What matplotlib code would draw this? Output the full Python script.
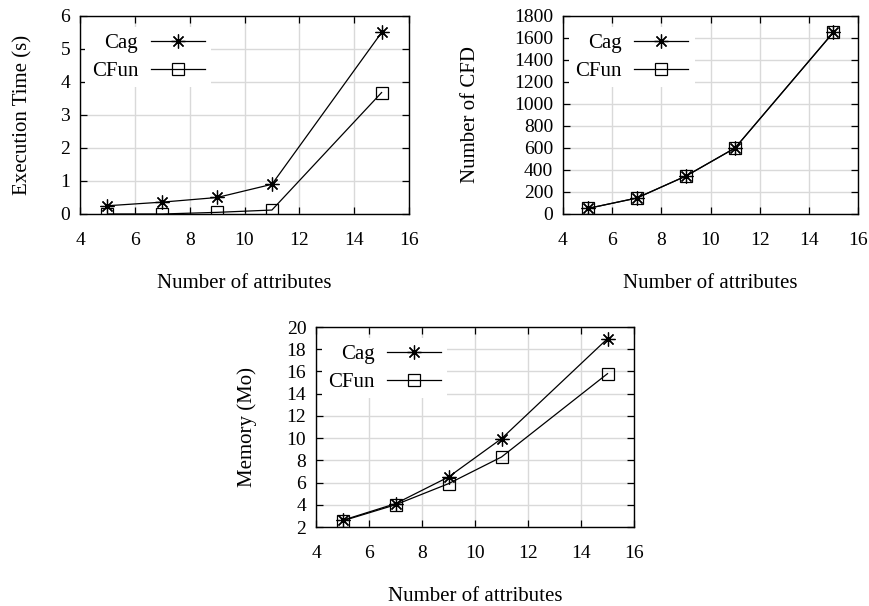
import matplotlib.pyplot as plt
from matplotlib.ticker import MultipleLocator

plt.rcParams['font.family'] = ['Liberation Serif', 'DejaVu Serif']

attrs = [5, 7, 9, 11, 15]

time_cag = [0.25, 0.36, 0.5, 0.9, 5.5]
time_cfun = [0.0, 0.0, 0.05, 0.12, 3.68]

cfd_cag = [50, 145, 345, 600, 1652]
cfd_cfun = [50, 145, 345, 600, 1652]

mem_cag = [2.6, 4.1, 6.5, 9.95, 18.95]
mem_cfun = [2.55, 4.0, 5.9, 8.3, 15.8]

W, H = 869, 606
fig = plt.figure(figsize=(W / 100, H / 100), dpi=100)


def box(l, t, r, b):
    # pixel box -> figure fraction
    return [l / W, 1 - b / H, (r - l) / W, (b - t) / H]


def panel(rect, ycag, ycfun, ylim, ystep, ylabel, ylabx):
    ax = fig.add_axes(box(*rect))
    ax.plot(attrs, ycag, color='black', lw=0.9, marker=(8, 2, 0),
            markersize=10, markeredgewidth=0.9, label='Cag')
    ax.plot(attrs, ycfun, color='black', lw=0.9, marker='s',
            markersize=9, fillstyle='none', markeredgewidth=0.9, label='CFun')
    ax.set_xlim(4, 16)
    ax.set_ylim(*ylim)
    ax.xaxis.set_major_locator(MultipleLocator(2))
    ax.yaxis.set_major_locator(MultipleLocator(ystep))
    ax.grid(True, color='#d9d9d9', lw=1)
    ax.set_axisbelow(True)
    ax.tick_params(direction='in', top=True, right=True, length=5,
                   labelsize=14, width=0.9)
    ax.tick_params(axis='x', pad=13)
    ax.tick_params(axis='y', pad=7)
    for s in ax.spines.values():
        s.set_linewidth(1.0)
    ax.set_xlabel('Number of attributes', fontsize=15, labelpad=18)
    ax.set_ylabel(ylabel, fontsize=15)
    ax.yaxis.set_label_coords(ylabx, 0.5)
    leg = ax.legend(loc='upper left', bbox_to_anchor=(-0.015, 0.995),
                    markerfirst=False, frameon=True, fancybox=False,
                    edgecolor='none', facecolor='white', framealpha=1,
                    fontsize=15, handlelength=2.6, handletextpad=0.6,
                    labelspacing=0.4, borderpad=0.3)
    for t in leg.get_texts():
        t.set_ha('right')
    return ax


panel((80, 16, 409, 214), time_cag, time_cfun, (0, 6), 1,
      'Execution Time (s)', -0.143)
panel((563, 16, 858, 214), cfd_cag, cfd_cfun, (0, 1800), 200,
      'Number of CFD', -0.281)
panel((316, 327, 634, 527), mem_cag, mem_cfun, (2, 20), 2,
      'Memory (Mo)', -0.185)

fig.savefig('out.png', dpi=100)
